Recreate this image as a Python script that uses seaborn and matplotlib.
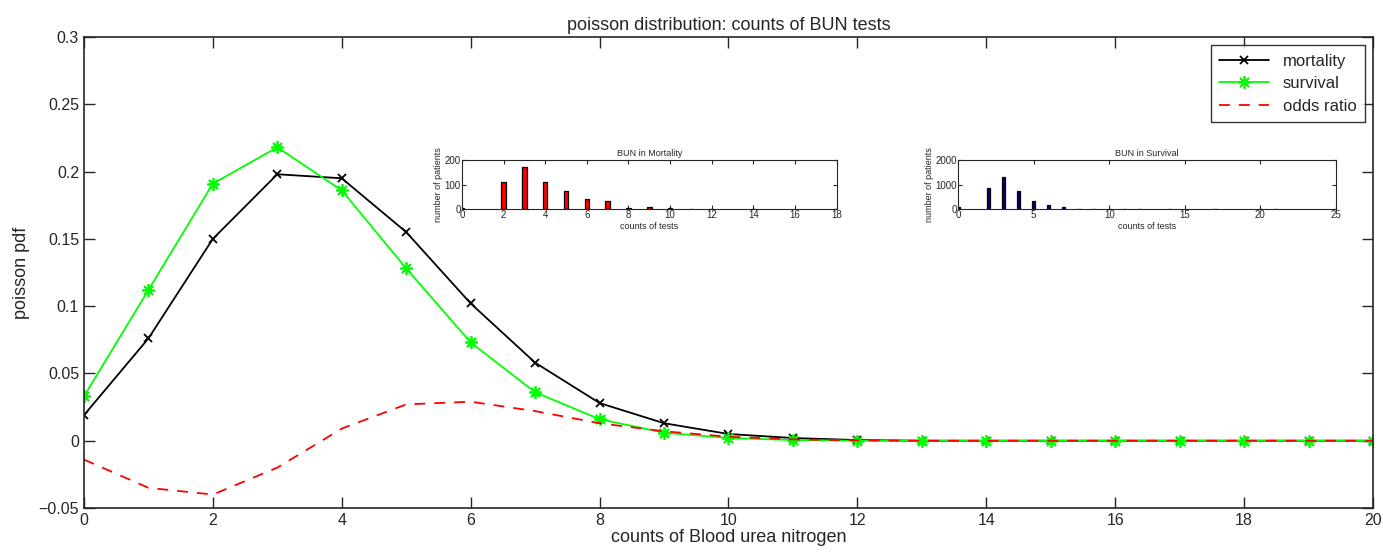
import numpy as np
import pandas as pd
import matplotlib
matplotlib.use("Agg")
import matplotlib.pyplot as plt
import seaborn as sns

sns.set_style("ticks")
plt.rcParams['font.family'] = ['Liberation Sans', 'DejaVu Sans']

# ---- data ----
counts = list(range(21))
mortality = [0.019, 0.076, 0.150, 0.198, 0.195, 0.155, 0.102, 0.058, 0.028, 0.013,
             0.005, 0.002, 0.0005, 0, 0, 0, 0, 0, 0, 0, 0]
survival = [0.033, 0.112, 0.191, 0.218, 0.186, 0.128, 0.073, 0.036, 0.016, 0.006,
            0.002, 0.0005, 0, 0, 0, 0, 0, 0, 0, 0, 0]
odds_ratio = [-0.014, -0.035, -0.040, -0.020, 0.009, 0.027, 0.029, 0.022, 0.013, 0.007,
              0.003, 0.001, 0.0003, 0, 0, 0, 0, 0, 0, 0, 0]

mort_tests = [0, 2, 3, 4, 5, 6, 7, 8, 9, 10, 11, 12, 14, 18]
mort_patients = [5, 110, 172, 110, 72, 40, 32, 6, 10, 6, 2, 1, 1, 2]
surv_tests = [0, 2, 3, 4, 5, 6, 7, 8, 9, 10, 11, 12, 14, 17, 20, 21]
surv_patients = [70, 860, 1330, 730, 320, 150, 70, 20, 20, 15, 15, 15, 15, 15, 15, 20]

fig = plt.figure(figsize=(13.83, 5.56), dpi=100)
ax = fig.add_axes([0.0607, 0.0863, 0.9321, 0.8472])

asterisk = (8, 2, 0)
sns.lineplot(x=counts, y=mortality, ax=ax, color='black', marker='x', markersize=6,
             markeredgewidth=1.3, markeredgecolor='black', linewidth=1.3, label='mortality')
sns.lineplot(x=counts, y=survival, ax=ax, color='#00ff00', marker=asterisk, markersize=9,
             markeredgewidth=1.3, markeredgecolor='#00ff00', linewidth=1.3, label='survival')
sns.lineplot(x=counts, y=odds_ratio, ax=ax, color='red', linestyle=(0, (6, 5)),
             linewidth=1.3, label='odds ratio')

ax.set_xlim(0, 20)
ax.set_ylim(-0.05, 0.3)
ax.set_xticks(range(0, 21, 2))
ax.set_yticks([-0.05, 0, 0.05, 0.1, 0.15, 0.2, 0.25, 0.3])
ax.set_yticklabels(['\u22120.05', '0', '0.05', '0.1', '0.15', '0.2', '0.25', '0.3'])
ax.tick_params(direction='in', length=8, width=1, labelsize=11.5, top=True, right=True)
for s in ax.spines.values():
    s.set_linewidth(1.2)
ax.set_xlabel('counts of Blood urea nitrogen', fontsize=13, labelpad=1)
ax.set_ylabel('poisson pdf', fontsize=13, labelpad=6)
ax.set_title('poisson distribution: counts of BUN tests', fontsize=13, pad=5)
leg = ax.legend(loc='upper right', fontsize=12, frameon=True, fancybox=False,
                edgecolor='black', borderaxespad=0.5, handlelength=3.0, labelspacing=0.45,
                borderpad=0.5)
leg.get_frame().set_linewidth(1.0)

def inset(rect, xs, ys, color, xlim, xticks, ylim, yticks, title):
    a = fig.add_axes(rect)
    sns.barplot(x=xs, y=ys, ax=a, native_scale=True, color=color, width=0.22,
                edgecolor='black', linewidth=0.9, saturation=1)
    a.set_xlim(*xlim)
    a.set_ylim(*ylim)
    a.set_xticks(xticks)
    a.set_yticks(yticks)
    a.tick_params(direction='in', length=3, width=0.8, labelsize=7, top=True, right=True, pad=1)
    a.set_xlabel('counts of tests', fontsize=6.5, labelpad=1)
    a.set_ylabel('number of patients', fontsize=6.5, labelpad=1)
    a.set_title(title, fontsize=6.5, pad=3)
    for s in a.spines.values():
        s.set_linewidth(0.8)
    return a

inset([0.334, 0.624, 0.271, 0.088], mort_tests, mort_patients, 'red', (0, 18),
      range(0, 19, 2), (0, 200), [0, 100, 200], 'BUN in Mortality')
inset([0.6927, 0.624, 0.2733, 0.088], surv_tests, surv_patients, '#000080', (0, 25),
      range(0, 26, 5), (0, 2000), [0, 1000, 2000], 'BUN in Survival')

fig.savefig('out.png', dpi=100)
